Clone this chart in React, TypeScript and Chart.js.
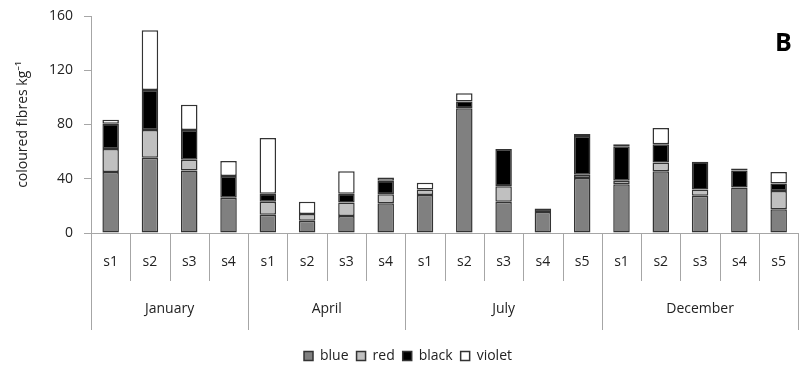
import React, { useEffect, useRef } from "react";
import { Chart, registerables } from "chart.js";

Chart.register(...registerables);

// Sampling sites, grouped by month
const months = ["January", "April", "July", "December"];
const sitesPerMonth = [4, 4, 5, 5];
const sites = [
  "s1", "s2", "s3", "s4",
  "s1", "s2", "s3", "s4",
  "s1", "s2", "s3", "s4", "s5",
  "s1", "s2", "s3", "s4", "s5",
];

// Coloured fibres per kg, by fibre colour
const blue = [45, 55.5, 46, 26, 13.5, 9, 12.5, 22, 28, 92, 23, 15.5, 40.5, 36, 45.5, 27.5, 33.5, 17.5];
const red = [17, 20.5, 8, 0, 9.5, 5, 10, 6.5, 4, 0, 11.5, 0, 2.5, 2.5, 6.5, 4.5, 0, 13.5];
const black = [18.5, 29.5, 22, 16, 6, 0, 6.5, 10, 0, 5, 27.5, 2.5, 28.5, 25.5, 13.5, 20.5, 12.5, 5.5];
const violet = [3, 44, 18.5, 11, 41, 9, 16.5, 2.5, 5, 6, 0, 0, 1.5, 1.5, 12, 0, 1.5, 8.5];

const yTicks = [0, 40, 80, 120, 160];
const panelLetter = "B";

const FONT = "'Open Sans', 'Noto Sans', sans-serif";
const AXIS_GREY = "#a6a6a6";
const TEXT = "#222222";
const EDGE = "#333333";

// Draws the two-level category axis (site separators, month separators and month names)
// and the panel letter.
const groupAxisPlugin = {
  id: "groupAxis",
  afterDraw(chart: any) {
    const { ctx, chartArea } = chart;
    const x = chart.scales.x;
    const half = (x.getPixelForValue(1) - x.getPixelForValue(0)) / 2;
    const bottom = chartArea.bottom;
    ctx.save();
    ctx.strokeStyle = AXIS_GREY;
    ctx.lineWidth = 1;
    const vline = (px: number, len: number) => {
      const xx = Math.round(px) + 0.5;
      ctx.beginPath();
      ctx.moveTo(xx, bottom);
      ctx.lineTo(xx, bottom + len);
      ctx.stroke();
    };
    let idx = 0;
    ctx.fillStyle = TEXT;
    ctx.font = `14px ${FONT}`;
    ctx.textAlign = "center";
    ctx.textBaseline = "middle";
    months.forEach((m, gi) => {
      const n = sitesPerMonth[gi];
      const left = x.getPixelForValue(idx) - half;
      const right = x.getPixelForValue(idx + n - 1) + half;
      vline(left, 97);
      for (let k = idx + 1; k < idx + n; k++) {
        vline(x.getPixelForValue(k) - half, 48);
      }
      if (gi === months.length - 1) vline(Math.min(right, chart.width - 1.5), 97);
      ctx.fillText(m, (left + right) / 2, bottom + 76);
      idx += n;
    });
    ctx.font = `bold 25px ${FONT}`;
    ctx.fillStyle = "#000";
    ctx.textAlign = "left";
    ctx.textBaseline = "alphabetic";
    ctx.fillText(panelLetter, 775, 51);
    ctx.restore();
  },
};

export default function App() {
  const canvasRef = useRef<HTMLCanvasElement | null>(null);

  useEffect(() => {
    document.body.style.margin = "0";
    document.body.style.overflow = "hidden";
    const canvas = canvasRef.current;
    if (!canvas) return;

    const series = [
      { label: "blue", values: blue, fill: "#808080" },
      { label: "red", values: red, fill: "#c0c0c0" },
      { label: "black", values: black, fill: "#000000" },
      { label: "violet", values: violet, fill: "#ffffff" },
    ];

    const chart = new Chart(canvas, {
      type: "bar",
      data: {
        labels: sites,
        datasets: series.map((s) => ({
          label: s.label,
          data: s.values.map((v) => (v === 0 ? null : v)),
          backgroundColor: s.fill,
          borderColor: EDGE,
          borderWidth: 1.5,
          borderSkipped: false,
          categoryPercentage: 1,
          barPercentage: 0.42,
        })),
      },
      options: {
        responsive: false,
        animation: false,
        devicePixelRatio: 1,
        layout: { padding: { left: 17, right: 0, top: 16, bottom: -6 } },
        plugins: {
          legend: {
            position: "bottom",
            labels: {
              boxWidth: 9,
              boxHeight: 9,
              padding: 8,
              color: TEXT,
              font: { family: FONT, size: 14 },
            },
          },
          tooltip: { enabled: false },
        },
        scales: {
          x: {
            stacked: true,
            grid: { display: false },
            border: { display: true, color: AXIS_GREY, width: 1 },
            ticks: {
              color: TEXT,
              font: { family: FONT, size: 14 },
              padding: 13,
              maxRotation: 0,
              autoSkip: false,
            },
            afterFit: (scale: any) => {
              scale.height = 108;
            },
          },
          y: {
            stacked: true,
            min: 0,
            max: 160,
            afterBuildTicks: (scale: any) => {
              scale.ticks = yTicks.map((v) => ({ value: v }));
            },
            grid: {
              display: true,
              drawOnChartArea: false,
              drawTicks: true,
              tickLength: 7,
              color: AXIS_GREY,
            },
            border: { display: true, color: AXIS_GREY, width: 1 },
            ticks: {
              color: TEXT,
              font: { family: FONT, size: 14 },
              padding: 11,
            },
            title: {
              display: true,
              text: "coloured fibres kg\u207B\u00B9",
              color: TEXT,
              font: { family: FONT, size: 14 },
              padding: { top: -2, bottom: 0 },
            },
            afterFit: (scale: any) => {
              scale.width = 74;
              scale.paddingTop = 0;
              scale.paddingBottom = 0;
            },
          },
        },
      },
      plugins: [groupAxisPlugin],
    });

    return () => chart.destroy();
  }, []);

  return (
    <div style={{ width: 799, height: 367, overflow: "hidden" }}>
      <canvas ref={canvasRef} width={799} height={367} style={{ display: "block" }} />
    </div>
  );
}
